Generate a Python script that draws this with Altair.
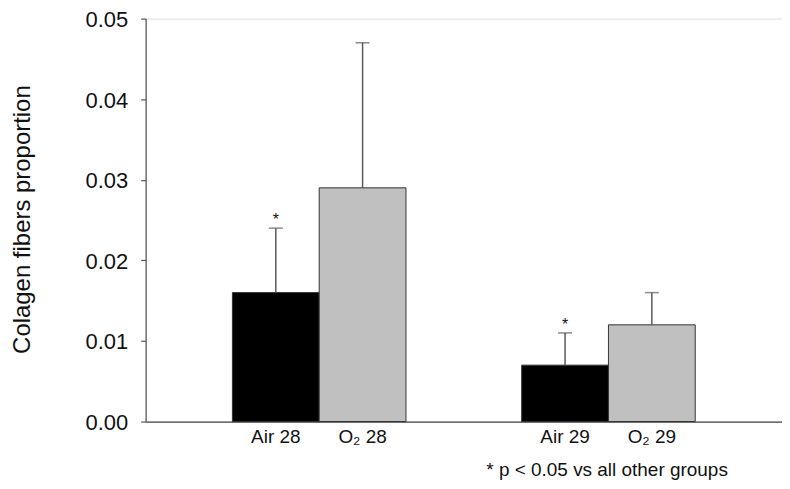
import altair as alt
import pandas as pd

groups = ["28", "28", "29", "29"]
types = ["Air", "O2", "Air", "O2"]
labels = ["Air 28", "O\u2082 28", "Air 29", "O\u2082 29"]
means = [0.016, 0.029, 0.007, 0.012]
errors = [0.008, 0.018, 0.004, 0.004]
marks = ["*", "", "*", ""]

df = pd.DataFrame({
    "group": groups,
    "type": types,
    "label": labels,
    "mean": means,
    "err": errors,
    "sig": marks,
})
df["top"] = df["mean"] + df["err"]

FONT = "Liberation Sans"

x = alt.X("group:N",
          scale=alt.Scale(paddingInner=0.4, paddingOuter=0.3),
          axis=alt.Axis(labels=False, ticks=False, domain=True, domainColor="#444",
                        domainWidth=1.2,
                        title="* p < 0.05 vs all other groups",
                        titleX=341, titleY=54, titleAlign="left", titleAnchor="start",
                        titleBaseline="alphabetic", titleFontSize=19,
                        titleFontWeight="normal", titleFont=FONT, titleColor="#111"))
xo = alt.XOffset("type:N", scale=alt.Scale(paddingInner=0, paddingOuter=0))
yscale = alt.Scale(domain=[0, 0.05], nice=False)

base = alt.Chart(df)

bars = base.mark_bar(stroke="#333", strokeWidth=1).encode(
    x=x,
    xOffset=xo,
    y=alt.Y("mean:Q", scale=yscale,
            axis=alt.Axis(values=[0, 0.01, 0.02, 0.03, 0.04, 0.05], format=".2f",
                          grid=False, domainColor="#555", tickColor="#555",
                          domainWidth=1.2, tickWidth=1.2,
                          tickSize=5, labelPadding=13, labelFontSize=22,
                          labelOffset=1,
                          labelFont=FONT, labelColor="#111",
                          title="Colagen fibers proportion",
                          titleFont=FONT, titleFontSize=24, titleFontWeight="normal",
                          titleColor="#111",
                          titleX=-123, titleY=201, titleAngle=-90,
                          titleAlign="center", titleBaseline="middle")),
    color=alt.Color("type:N", scale=alt.Scale(domain=["Air", "O2"],
                                              range=["#000000", "#c0c0c0"]),
                    legend=None),
)

rules = base.mark_rule(color="#5a5a5a", strokeWidth=1.5).encode(
    x=x, xOffset=xo,
    y=alt.Y("mean:Q", scale=yscale),
    y2="top:Q",
)

caps = base.mark_tick(color="#5a5a5a", thickness=1.5, size=14, orient="horizontal").encode(
    x=x, xOffset=xo,
    y=alt.Y("top:Q", scale=yscale),
)

stars = base.mark_text(fontSize=16, font=FONT, color="#111", dy=-8,
                       baseline="middle").encode(
    x=x, xOffset=xo,
    y=alt.Y("top:Q", scale=yscale),
    text="sig:N",
)

lbls = base.mark_text(fontSize=19, font=FONT, color="#111", baseline="alphabetic",
                      dy=22).encode(
    x=x, xOffset=xo,
    y=alt.datum(0),
    text="label:N",
)

chart = alt.layer(bars, rules, caps, stars, lbls).properties(
    width=638, height=404,
    padding={"left": 138, "top": 10, "right": 0, "bottom": 66},
    autosize=alt.AutoSizeParams(type="none"),
).configure_view(stroke=None).configure(background="white")

chart.save("out.html", embed_options={"renderer": "svg", "actions": False})
